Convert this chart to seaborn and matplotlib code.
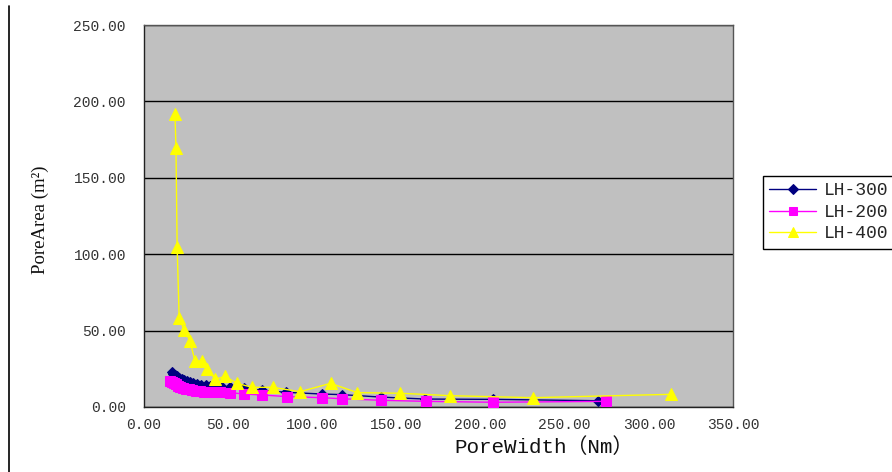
import matplotlib
matplotlib.use("Agg")
import matplotlib.pyplot as plt
import seaborn as sns
import pandas as pd
from matplotlib.lines import Line2D

# ---- data ----
lh300_x = [16.4, 17.4, 18.5, 19.7, 21.0, 22.4, 23.9, 25.6, 27.4, 29.4, 31.6, 34.0, 36.6, 39.0, 41.4,
           45.8, 51.3, 59.2, 69.9, 84.6, 105.6, 117.5, 140.6, 167.2, 207.5, 270.0]
lh300_y = [22.8, 21.9, 21.0, 20.1, 19.2, 18.4, 17.6, 16.9, 16.2, 15.6, 15.1, 14.6, 14.2, 13.9, 13.7,
           13.5, 13.1, 12.2, 11.0, 9.6, 8.5, 8.1, 6.5, 5.2, 5.0, 4.1]
lh200_x = [15.6, 16.6, 17.7, 18.9, 20.2, 21.6, 23.1, 24.8, 26.6, 28.6, 30.8, 33.2, 35.8, 38.5, 41.4,
           45.4, 51.3, 59.2, 70.0, 84.8, 105.6, 117.5, 140.6, 167.4, 207.2, 274.3]
lh200_y = [17.2, 16.4, 15.6, 14.8, 14.0, 13.3, 12.6, 12.0, 11.5, 11.0, 10.6, 10.3, 10.1, 9.9, 9.9,
           9.8, 9.4, 8.5, 7.9, 6.8, 6.1, 5.4, 4.4, 3.7, 3.1, 3.7]
lh400_x = [18.4, 19.0, 19.7, 20.9, 23.9, 27.3, 30.3, 34.2, 37.7, 42.3, 48.3, 55.1, 64.3, 76.5,
           92.7, 110.9, 126.8, 152.1, 182.1, 231.3, 313.1]
lh400_y = [191.8, 169.5, 104.7, 58.2, 50.4, 43.2, 30.1, 30.1, 24.9, 18.1, 20.1, 15.5, 12.9, 12.9,
           10.0, 15.5, 9.4, 9.0, 7.4, 6.1, 8.3]

series_names = ["LH-300", "LH-200", "LH-400"]
series_colors = ["#000080", "#FF00FF", "#FFFF00"]
series_markers = ["D", "s", "^"]
series_msize = [5.5, 7, 8.5]

x_ticks = [0, 50, 100, 150, 200, 250, 300, 350]
x_tick_labels = ["0.00", "50.00", "100.00", "150.00", "200.00", "250.00", "300.00", "350.00"]
y_ticks = [0, 50, 100, 150, 200, 250]
y_tick_labels = ["0.00", "50.00", "100.00", "150.00", "200.00", "250.00"]

x_label = "PoreWidth（Nm）"
y_label = "PoreArea (m²)"

# ---- figure ----
sns.set_style("white")
plt.rcParams["font.family"] = ["Liberation Mono", "Noto Sans CJK SC", "DejaVu Sans"]

fig = plt.figure(figsize=(8.92, 4.72), dpi=100)
ax = fig.add_axes([144 / 892, 1 - 407 / 472, (733 - 144) / 892, (407 - 25) / 472])
ax.set_facecolor("#C0C0C0")

frames = [
    pd.DataFrame({"x": lh300_x, "y": lh300_y}),
    pd.DataFrame({"x": lh200_x, "y": lh200_y}),
    pd.DataFrame({"x": lh400_x, "y": lh400_y}),
]
for df, name, c, m, ms in zip(frames, series_names, series_colors, series_markers, series_msize):
    sns.lineplot(data=df, x="x", y="y", ax=ax, color=c, marker=m, markersize=ms,
                 markeredgecolor=c, linewidth=1.0, estimator=None, sort=False, label=name,
                 zorder=3)

ax.set_xlim(0, 350)
ax.set_ylim(0, 250)
ax.set_xticks(x_ticks)
ax.set_xticklabels(x_tick_labels, fontsize=10.5)
ax.set_yticks(y_ticks)
ax.set_yticklabels(y_tick_labels, fontsize=10.5)
ax.tick_params(axis="x", direction="in", length=4, width=1, pad=8, color="black")
ax.tick_params(axis="y", direction="out", length=5, width=1, pad=8, color="black")
for t in ax.get_xticklabels() + ax.get_yticklabels():
    t.set_color("#333333")

ax.yaxis.grid(True, color="black", linewidth=1.0)
ax.xaxis.grid(False)
ax.set_axisbelow(True)
for s in ax.spines.values():
    s.set_color("#555555")
    s.set_linewidth(1.0)
ax.spines["left"].set_color("#222222")
ax.spines["bottom"].set_color("#222222")

ax.set_xlabel("")
ax.set_ylabel("")
fig.text(544 / 892, 1 - 447 / 472, x_label, ha="center", va="center", fontsize=15,
         family=["Liberation Mono", "Noto Sans CJK SC"], color="#111111")
fig.text(40 / 892, 1 - 220 / 472, y_label, ha="center", va="center", rotation=90,
         fontsize=13.5, family=["Liberation Serif"], color="#111111")

# left border line of the chart area
fig.add_artist(Line2D([9 / 892, 9 / 892], [1 - 6 / 472, 0], transform=fig.transFigure,
                      color="black", linewidth=1.2))

leg = ax.legend(loc="upper left", bbox_to_anchor=(763 / 892, 1 - 176 / 472),
                bbox_transform=fig.transFigure, frameon=True, fancybox=False,
                edgecolor="black", facecolor="white", framealpha=1, fontsize=13,
                handlelength=2.6, handletextpad=0.4, borderpad=0.35, labelspacing=0.25,
                borderaxespad=0, markerscale=0.85)
leg.get_frame().set_linewidth(1.0)

fig.savefig("out.png", dpi=100)
